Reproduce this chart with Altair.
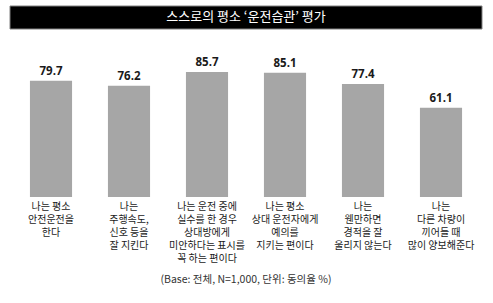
import altair as alt
import pandas as pd

categories = [
    "나는 평소\n안전운전을\n한다",
    "나는\n주행속도,\n신호 등을\n잘 지킨다",
    "나는 운전 중에\n실수를 한 경우\n상대방에게\n미안하다는 표시를\n꼭 하는 편이다",
    "나는 평소\n상대 운전자에게\n예의를\n지키는 편이다",
    "나는\n웬만하면\n경적을 잘\n울리지 않는다",
    "나는\n다른 차량이\n끼어들 때\n많이 양보해준다",
]
values = [79.7, 76.2, 85.7, 85.1, 77.4, 61.1]
title_text = "스스로의 평소 ‘운전습관’ 평가"
footnote = "(Base: 전체, N=1,000, 단위: 동의율 %)"

df = pd.DataFrame({"cat": categories, "value": values})

W, H = 468, 146
FONT = "Noto Sans CJK KR"

xenc = alt.X("cat:N", sort=None, axis=None,
             scale=alt.Scale(paddingInner=0.46, paddingOuter=0.23))
yenc = alt.Y("value:Q", axis=None, scale=alt.Scale(domain=[0, 100]))

base = alt.Chart(df)

bars = base.mark_bar(color="#a6a6a6").encode(x=xenc, y=yenc)

vals = base.mark_text(baseline="bottom", dy=-4, font="Open Sans",
                      fontWeight="bold", fontSize=11.5, color="#1a1a1a").encode(
    x=xenc, y=yenc, text=alt.Text("value:Q", format=".1f"))

cats = base.mark_text(baseline="top", lineBreak="\n", lineHeight=13,
                      font=FONT, fontSize=10, color="#1a1a1a").encode(
    x=xenc, y=alt.value(H + 5), text="cat:N")

title_df = pd.DataFrame({"t": [title_text]})
title_bg = alt.Chart(title_df).mark_rect(color="black", stroke="#808080",
                                         strokeWidth=1).encode(
    x=alt.value(-2), x2=alt.value(470), y=alt.value(-45), y2=alt.value(-22))
title_txt = alt.Chart(title_df).mark_text(font=FONT, fontSize=13, color="white",
                                          baseline="middle").encode(
    x=alt.value(234), y=alt.value(-34), text="t:N")

foot_df = pd.DataFrame({"t": [footnote]})
foot = alt.Chart(foot_df).mark_text(font=FONT, fontSize=10.5, color="#333333",
                                    baseline="middle").encode(
    x=alt.value(234), y=alt.value(229), text="t:N")

chart = alt.layer(bars, vals, cats, title_bg, title_txt, foot).properties(
    width=W, height=H,
    autosize=alt.AutoSizeParams(type="none"),
    padding={"left": 12, "top": 51, "right": 13, "bottom": 106},
    background="white",
).configure_view(stroke=None)

chart.save("out.html", embed_options={"renderer": "svg", "actions": False})
